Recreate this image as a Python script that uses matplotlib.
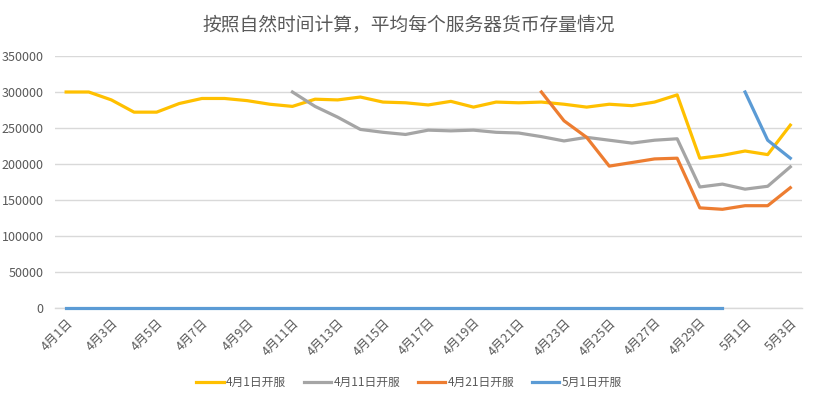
import numpy as np
import matplotlib
matplotlib.use("Agg")
import matplotlib.pyplot as plt

plt.rcParams['font.family'] = ['Noto Sans CJK SC', 'DejaVu Sans']

dates = ['4月%d日' % d for d in range(1, 31)] + ['5月%d日' % d for d in range(1, 4)]

# 4月1日开服
s1 = [300000, 300000, 289000, 272000, 272000, 284000, 291000, 291000, 288000, 283000,
      280000, 290000, 289000, 293000, 286000, 285000, 282000, 287000, 279000, 286000,
      285000, 286000, 283000, 279000, 283000, 281000, 286000, 296000, 208000, 212000,
      218000, 213000, 254000]
# 4月11日开服 (from 4/11)
s2 = [300000, 280000, 265000, 248000, 244000, 241000, 247000, 246000, 247000, 244000,
      243000, 238000, 232000, 237000, 233000, 229000, 233000, 235000, 168000, 172000,
      165000, 169000, 196000]
# 4月21日开服 (from 4/22)
s3 = [300000, 260000, 237000, 197000, 202000, 207000, 208000, 139000, 137000, 142000,
      142000, 167000]
# 5月1日开服: zeros until 4/30, then values from 5/1
s4_zero = [0] * 30
s4 = [300000, 233000, 208000]

names = ['4月1日开服', '4月11日开服', '4月21日开服', '5月1日开服']
colors = ['#FFC000', '#A5A5A5', '#ED7D31', '#5B9BD5']

fig = plt.figure(figsize=(8.18, 4.03), dpi=100)
ax = fig.add_axes([0.067, 0.236, 0.913, 0.625])

x = np.arange(len(dates))
lw = 2.3
ax.plot(x, s1, color=colors[0], lw=lw, label=names[0], solid_joinstyle='round')
ax.plot(x[10:10 + len(s2)], s2, color=colors[1], lw=lw, label=names[1], solid_joinstyle='round')
ax.plot(x[21:21 + len(s3)], s3, color=colors[2], lw=lw, label=names[2], solid_joinstyle='round')
ax.plot(x[:len(s4_zero)], s4_zero, color=colors[3], lw=lw, label=names[3], clip_on=False, zorder=3)
ax.plot(x[30:30 + len(s4)], s4, color=colors[3], lw=lw, solid_joinstyle='round')

ax.set_xlim(-0.5, len(dates) - 0.5)
ax.set_ylim(0, 350000)
ax.set_yticks(np.arange(0, 350001, 50000))
ax.yaxis.grid(True, color='#D9D9D9', lw=1)
ax.set_axisbelow(True)
for s in ax.spines.values():
    s.set_visible(False)
ax.axhline(0, color='#D9D9D9', lw=1, zorder=0, clip_on=False)

ax.set_xticks(x[::2])
ax.set_xticklabels(dates[::2], rotation=45, ha='right', rotation_mode='anchor')
ax.tick_params(axis='both', length=0, labelsize=9, labelcolor='#595959')
ax.tick_params(axis='x', pad=6)
ax.tick_params(axis='y', pad=8)

fig.suptitle('按照自然时间计算，平均每个服务器货币存量情况', x=0.5, y=0.965,
             fontsize=13.5, color='#595959')

handles, labels = ax.get_legend_handles_labels()
fig.legend(handles, labels, loc='center', bbox_to_anchor=(0.5, 0.05), ncol=4,
           frameon=False, fontsize=8.5, labelcolor='#595959', handlelength=2.3,
           handletextpad=0.2, columnspacing=1.5)

fig.savefig('out.png', dpi=100)
